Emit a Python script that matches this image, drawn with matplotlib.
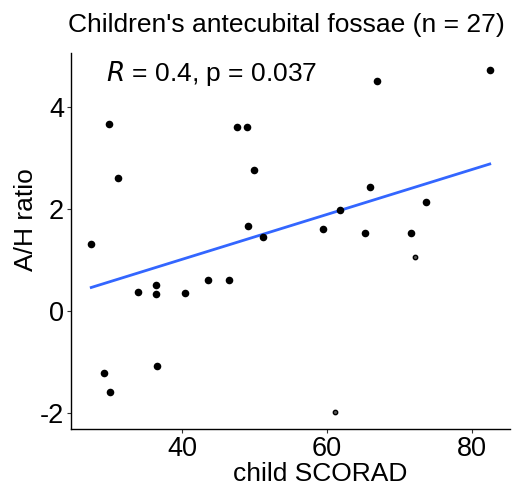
import numpy as np
import matplotlib.pyplot as plt

plt.rcParams['font.family'] = ['Liberation Sans', 'DejaVu Sans']
plt.rcParams['axes.unicode_minus'] = False

# child SCORAD vs A/H ratio
scorad = [29.9, 31.1, 47.5, 49.0, 49.9, 49.1, 27.4, 82.5, 66.9, 66.0,
          73.7, 61.8, 59.5, 65.2, 71.6, 51.1, 33.8, 36.3, 36.3, 40.3,
          43.5, 46.5, 29.2, 30.0, 36.5, 72.1, 61.1]
ah_ratio = [3.68, 2.62, 3.62, 3.61, 2.77, 1.66, 1.32, 4.73, 4.51, 2.43,
            2.15, 1.99, 1.62, 1.54, 1.54, 1.46, 0.38, 0.51, 0.34, 0.35,
            0.61, 0.61, -1.21, -1.60, -1.09, 1.07, -1.98]
# last two points are drawn small
small = [False] * 25 + [True, True]

x = np.array(scorad)
y = np.array(ah_ratio)
sm = np.array(small)

fig = plt.figure(figsize=(5.12, 4.87), dpi=100)
ax = fig.add_axes([71 / 512, 1 - 429 / 487, 439 / 512, 376 / 487])

ax.scatter(x[~sm], y[~sm], s=30, color='black', zorder=3, linewidths=0)
ax.scatter(x[sm], y[sm], s=10, facecolor='#555555', edgecolor='black',
           linewidths=1.0, zorder=3)

slope, icpt = np.polyfit(x, y, 1)
xl = np.array([x.min(), x.max()])
ax.plot(xl, icpt + slope * xl, color='#3366FF', lw=2, zorder=2)

ax.set_xlim(24.6, 85.3)
ax.set_ylim(-2.32, 5.07)
ax.set_xticks([40, 60, 80])
ax.set_yticks([-2, 0, 2, 4])
ax.tick_params(length=3, color='#333333', labelsize=19.5, labelcolor='black', pad=2)

for s in ['top', 'right']:
    ax.spines[s].set_visible(False)
for s in ['left', 'bottom']:
    ax.spines[s].set_linewidth(1.0)

ax.set_xlabel('child SCORAD', fontsize=19, labelpad=0)
ax.set_ylabel('A/H ratio', fontsize=19, labelpad=1)
ax.xaxis.label.set_x(0.567)
ax.yaxis.label.set_y(0.556)
fig.text(286 / 512, 1 - 25 / 487, "Children's antecubital fossae (n = 27)",
         fontsize=19, ha='center', va='center')

fig.text(106 / 512, 1 - 74 / 487, r'$\it{R}$ = 0.4, p = 0.037', fontsize=19,
         ha='left', va='center')

fig.savefig('out.png', dpi=100)
